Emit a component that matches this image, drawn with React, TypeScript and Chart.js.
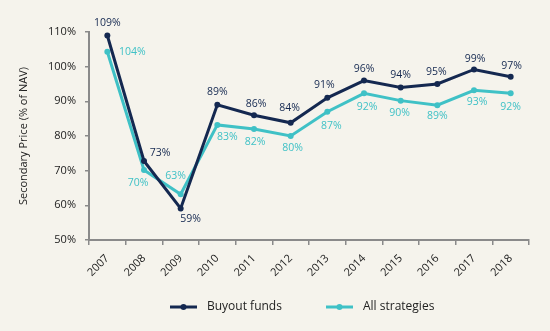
import React, { useEffect, useRef } from "react";
import { Chart, registerables } from "chart.js";

Chart.register(...registerables);

const years = ["2007", "2008", "2009", "2010", "2011", "2012", "2013", "2014", "2015", "2016", "2017", "2018"];
const buyoutFunds = [109, 72.8, 59.1, 89, 86, 83.8, 91, 96, 94, 95, 99.2, 97.1];
const allStrategies = [104.3, 70.2, 63.2, 83.2, 82, 80, 87, 92.3, 90.2, 88.9, 93.2, 92.3];
const yTicks = [50, 60, 70, 80, 90, 100, 110];
const seriesNames = ["Buyout funds", "All strategies"];

// label offsets (dx, dy) relative to each point
const buyoutLabelOffsets = [
  [0, -12], [16, -8], [10, 11], [0, -13], [2, -11], [-1, -15], [-3, -13], [0, -12], [0, -12], [-1, -12], [1, -10], [1, -11],
];
const allLabelOffsets = [
  [25, 0], [-6, 13], [-5, -18], [10, 12], [1, 13], [2, 12], [4, 14], [3, 14], [-1, 12], [0, 11], [3, 12], [0, 14],
];

const NAVY = "#142850";
const TEAL = "#3fc1c6";
const FONT = "'Open Sans', sans-serif";

const labelPlugin = {
  id: "pointLabels",
  afterDatasetsDraw(chart: any) {
    const ctx = chart.ctx;
    const offsets = [buyoutLabelOffsets, allLabelOffsets];
    chart.data.datasets.forEach((ds: any, di: number) => {
      const meta = chart.getDatasetMeta(di);
      ctx.save();
      ctx.font = `10.5px ${FONT}`;
      ctx.fillStyle = ds.borderColor;
      ctx.textAlign = "center";
      ctx.textBaseline = "middle";
      meta.data.forEach((pt: any, i: number) => {
        const [dx, dy] = offsets[di][i];
        ctx.fillText(Math.round(ds.data[i]) + "%", pt.x + dx, pt.y + dy);
      });
      ctx.restore();
    });
  },
};

const legendPlugin = {
  id: "customLegend",
  afterDraw(chart: any) {
    const ctx = chart.ctx;
    const y = 307;
    const items = [
      { x: 170, color: NAVY, text: seriesNames[0] },
      { x: 326, color: TEAL, text: seriesNames[1] },
    ];
    ctx.save();
    items.forEach((it) => {
      ctx.strokeStyle = it.color;
      ctx.lineWidth = 3;
      ctx.beginPath();
      ctx.moveTo(it.x, y);
      ctx.lineTo(it.x + 27, y);
      ctx.stroke();
      ctx.fillStyle = it.color;
      ctx.beginPath();
      ctx.arc(it.x + 13.5, y, 3, 0, Math.PI * 2);
      ctx.fill();
      ctx.fillStyle = "#222";
      ctx.font = `12px ${FONT}`;
      ctx.textAlign = "left";
      ctx.textBaseline = "middle";
      ctx.fillText(it.text, it.x + 37, y);
    });
    ctx.restore();
  },
};

export default function App() {
  const ref = useRef<HTMLCanvasElement>(null);
  useEffect(() => {
    document.body.style.margin = "0";
    const chart = new Chart(ref.current!, {
      type: "line",
      data: {
        labels: years,
        datasets: [
          {
            label: seriesNames[0],
            data: buyoutFunds,
            borderColor: NAVY,
            backgroundColor: NAVY,
            borderWidth: 3,
            pointRadius: 3,
            pointBorderWidth: 0,
            tension: 0,
          },
          {
            label: seriesNames[1],
            data: allStrategies,
            borderColor: TEAL,
            backgroundColor: TEAL,
            borderWidth: 3,
            pointRadius: 3,
            pointBorderWidth: 0,
            tension: 0,
          },
        ],
      },
      options: {
        animation: false,
        responsive: false,
        layout: { padding: { left: 0, right: 21, top: 32, bottom: 0 } },
        plugins: { legend: { display: false }, tooltip: { enabled: false } },
        scales: {
          x: {
            offset: true,
            grid: { display: true, drawOnChartArea: false, drawTicks: true, tickLength: 5, color: "#8a8a8a", lineWidth: 1.5, offset: true },
            border: { display: true, color: "#8a8a8a", width: 2 },
            ticks: {
              autoSkip: false,
              maxRotation: 45,
              minRotation: 45,
              padding: 7,
              color: "#222",
              font: { family: FONT, size: 11 },
            },
            afterFit: (s: any) => { s.height = 91; },
          },
          y: {
            min: 50,
            max: 110,
            afterBuildTicks: (s: any) => { s.ticks = yTicks.map((v) => ({ value: v })); },
            grid: { display: true, drawOnChartArea: false, drawTicks: true, tickLength: 4, color: "#8a8a8a", lineWidth: 1.5 },
            border: { display: true, color: "#8a8a8a", width: 2 },
            ticks: {
              padding: 9,
              color: "#222",
              font: { family: FONT, size: 11 },
              callback: (v: any) => v + "%",
            },
            title: {
              display: true,
              text: "Secondary Price (% of NAV)",
              color: "#222",
              font: { family: FONT, size: 11 },
              padding: { top: 17, bottom: 0 },
            },
            afterFit: (s: any) => { s.width = 89; },
          },
        },
      },
      plugins: [labelPlugin, legendPlugin],
    });
    return () => chart.destroy();
  }, []);
  return (
    <div style={{ width: 550, height: 331, background: "#f5f3ec" }}>
      <canvas ref={ref} width={550} height={331} style={{ display: "block" }} />
    </div>
  );
}
